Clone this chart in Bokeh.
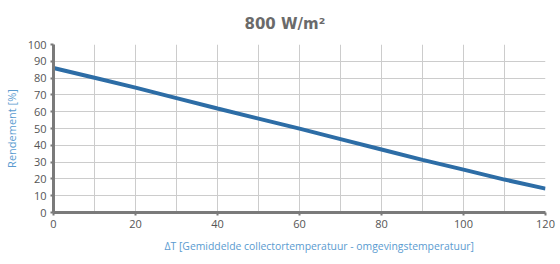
from bokeh.plotting import figure
from bokeh.models import Range1d, SingleIntervalTicker, Title
from bokeh.embed import file_html
from bokeh.resources import INLINE

delta_t = [0, 10, 20, 30, 40, 50, 60, 70, 80, 90, 100, 110, 120]
rendement = [86, 80.2, 74.3, 68.1, 61.9, 55.9, 49.9, 43.7, 37.5, 31.3, 25.5, 19.6, 14.2]
x_ticks = [0, 20, 40, 60, 80, 100, 120]
y_ticks = [0, 10, 20, 30, 40, 50, 60, 70, 80, 90, 100]
title_text = "800 W/m²"
x_label = "ΔT [Gemiddelde collectortemperatuur - omgevingstemperatuur]"
y_label = "Rendement [%]"

p = figure(width=560, height=264, output_backend="svg", toolbar_location=None,
           x_range=Range1d(0, 120), y_range=Range1d(0, 100),
           min_border_left=51, min_border_right=15, min_border_top=44, min_border_bottom=52)
p.outline_line_color = None
p.background_fill_color = "white"
p.border_fill_color = "white"

p.title.text = title_text
p.title.align = "left"
p.title.offset = 191
p.title.standoff = 24
p.title.text_font = "DejaVu Sans"
p.title.text_font_style = "bold"
p.title.text_font_size = "15px"
p.title.text_color = "#6a6a6a"

p.xaxis.ticker = x_ticks
p.yaxis.ticker = y_ticks
p.xgrid.ticker = SingleIntervalTicker(interval=10)
p.ygrid.ticker = SingleIntervalTicker(interval=10)
for g in (p.xgrid, p.ygrid):
    g.grid_line_color = "#cccccc"
    g.grid_line_width = 1

for ax in (p.xaxis, p.yaxis):
    ax.axis_line_color = "#7a7a7a"
    ax.axis_line_width = 3
    ax.major_tick_line_color = "#7a7a7a"
    ax.major_tick_line_width = 2
    ax.major_tick_in = 0
    ax.major_tick_out = 3
    ax.minor_tick_line_color = None
    ax.major_label_text_font = "Open Sans"
    ax.major_label_text_font_size = "11px"
    ax.major_label_text_color = "#555555"
    ax.major_label_standoff = 4

p.yaxis.axis_label = y_label
p.yaxis.axis_label_text_font = "Open Sans"
p.yaxis.axis_label_text_font_style = "normal"
p.yaxis.axis_label_text_font_size = "11px"
p.yaxis.axis_label_text_color = "#5a9bd0"
p.yaxis.axis_label_standoff = 6

p.line(delta_t, rendement, line_color="#2d6da6", line_width=4)

xt = Title(text=x_label, align="left", offset=111, standoff=12,
           text_font="Open Sans", text_font_style="normal", text_font_size="10.4px",
           text_color="#5a9bd0")
p.add_layout(xt, "below")

open("out.html", "w").write(file_html(p, INLINE))
